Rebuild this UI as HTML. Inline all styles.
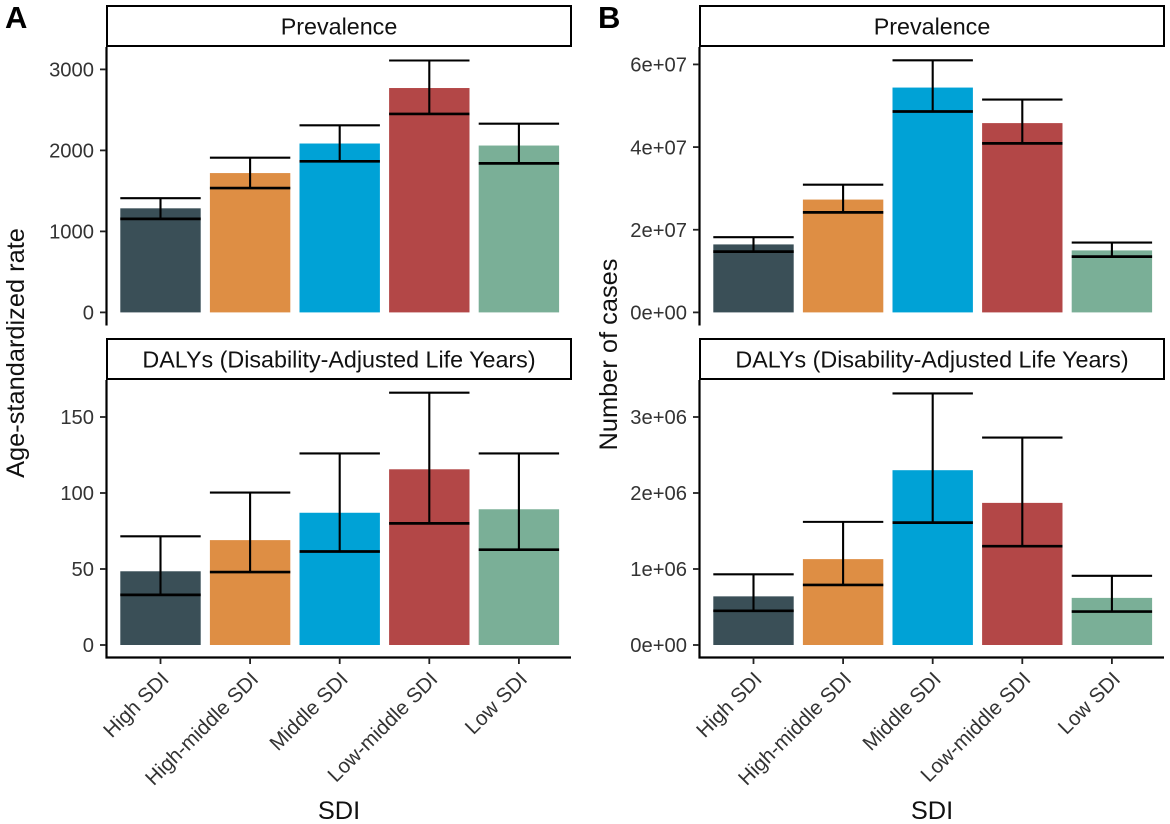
<!DOCTYPE html>
<html>
<head>
<meta charset="utf-8">
<title>SDI charts</title>
<style>
html,body{margin:0;padding:0;background:#fff;}
svg{display:block;}
text{font-family:"Liberation Sans",sans-serif;}
</style>
</head>
<body>
<svg id="chart" width="1170" height="824" viewBox="0 0 1170 824" xmlns="http://www.w3.org/2000/svg"></svg>
<script>
const categories = ["High SDI","High-middle SDI","Middle SDI","Low-middle SDI","Low SDI"];
const barColors = ["#3a4f57","#de8e44","#00a2d6","#b34747","#7aaf97"];

const ratePrevalence = [1285,1720,2085,2770,2060];
const ratePrevalenceUpper = [1410,1910,2310,3110,2330];
const ratePrevalenceLower = [1155,1535,1865,2450,1840];
const ratePrevalenceTicks = [0,1000,2000,3000];
const ratePrevalenceLabels = ["0","1000","2000","3000"];

const rateDalys = [48.5,69,87,115.6,89.3];
const rateDalysUpper = [71.5,100.3,126,166,126];
const rateDalysLower = [33,48,61.5,80,62.7];
const rateDalysTicks = [0,50,100,150];
const rateDalysLabels = ["0","50","100","150"];

const casesPrevalence = [1.645e7,2.73e7,5.44e7,4.58e7,1.50e7];
const casesPrevalenceUpper = [1.82e7,3.09e7,6.10e7,5.15e7,1.69e7];
const casesPrevalenceLower = [1.47e7,2.42e7,4.86e7,4.09e7,1.35e7];
const casesPrevalenceTicks = [0,2e7,4e7,6e7];
const casesPrevalenceLabels = ["0e+00","2e+07","4e+07","6e+07"];

const casesDalys = [6.4e5,11.3e5,23e5,18.7e5,6.2e5];
const casesDalysUpper = [9.3e5,16.2e5,33.1e5,27.3e5,9.1e5];
const casesDalysLower = [4.5e5,7.9e5,16.1e5,13e5,4.4e5];
const casesDalysTicks = [0,1e6,2e6,3e6];
const casesDalysLabels = ["0e+00","1e+06","2e+06","3e+06"];

const NS = "http://www.w3.org/2000/svg";
const root = document.getElementById("chart");

function make(parent, tag, attrs, text) {
  const el = document.createElementNS(NS, tag);
  for (const k in attrs) el.setAttribute(k, attrs[k]);
  if (text !== undefined) el.textContent = text;
  parent.appendChild(el);
  return el;
}

function drawFacet(cfg) {
  const g = make(root, "g", {});
  
  

  const left = cfg.left, right = left + 464;
  const y = v => cfg.zeroY - v * cfg.pxPerUnit;
  const x = i => left + 53.5 + i * 89.6;

  const strip = make(g, "rect", {x:left, y:cfg.stripTop, width:464, height:40, fill:"#fff", stroke:"#000", "stroke-width":2});
  
  
  const stripLabel = make(g, "text", {x:left+232, y:cfg.stripTop+28.5, "text-anchor":"middle", "font-size":23.3, fill:"#111"}, cfg.title);
  
  

  cfg.values.forEach((v, i) => {
    const bar = make(g, "rect", {x:x(i)-40.2, y:y(v), width:80.4, height:y(0)-y(v), fill:barColors[i]});
    
    
  });
  cfg.values.forEach((v, i) => {
    const err = make(g, "path", {
      d:"M"+(x(i)-40.2)+" "+y(cfg.upper[i])+"H"+(x(i)+40.2)+"M"+x(i)+" "+y(cfg.upper[i])+"V"+y(cfg.lower[i]),
      fill:"none", stroke:"#000", "stroke-width":2.1
    });
    
    
    const low = make(g, "path", {
      d:"M"+(x(i)-40.2)+" "+y(cfg.lower[i])+"H"+(x(i)+40.2),
      fill:"none", stroke:"#000", "stroke-width":2.7
    });
    
    
  });

  const yAxis = make(g, "line", {x1:left-0.5, x2:left-0.5, y1:cfg.stripTop+41, y2:cfg.axisBottom+1, stroke:"#000", "stroke-width":2.2});
  
  

  if (cfg.showX) {
    const xAxis = make(g, "line", {x1:left-1.5, x2:right, y1:cfg.axisBottom, y2:cfg.axisBottom, stroke:"#000", "stroke-width":2.2});
    
    
  }

  cfg.ticks.forEach((t, i) => {
    const tick = make(g, "line", {x1:left-7, x2:left-1, y1:y(t), y2:y(t), stroke:"#222", "stroke-width":1.8});
    
    
    const label = make(g, "text", {x:left-13, y:y(t)+7.2, "text-anchor":"end", "font-size":cfg.tickFont, fill:"#333"}, cfg.tickLabels[i]);
    
    
  });

  if (cfg.showX) {
    categories.forEach((c, i) => {
      const tick = make(g, "line", {x1:x(i), x2:x(i), y1:cfg.axisBottom, y2:cfg.axisBottom+6.5, stroke:"#222", "stroke-width":1.8});
      
      
      const label = make(g, "text", {
        x:0, y:0, "text-anchor":"end", "font-size":20.6, fill:"#333",
        transform:"translate("+(x(i)+9.5)+" "+(cfg.axisBottom+23)+") rotate(-45)"
      }, c);
      
      
    });
  }
}

drawFacet({name:"rate-prevalence-facet", title:"Prevalence", left:107, stripTop:6, axisBottom:324.5, zeroY:312.4, pxPerUnit:0.081,
  values:ratePrevalence, upper:ratePrevalenceUpper, lower:ratePrevalenceLower, ticks:ratePrevalenceTicks, tickLabels:ratePrevalenceLabels, tickFont:20.2, showX:false});
drawFacet({name:"rate-dalys-facet", title:"DALYs (Disability-Adjusted Life Years)", left:107, stripTop:339, axisBottom:657.5, zeroY:645, pxPerUnit:1.52,
  values:rateDalys, upper:rateDalysUpper, lower:rateDalysLower, ticks:rateDalysTicks, tickLabels:rateDalysLabels, tickFont:20.2, showX:true});
drawFacet({name:"cases-prevalence-facet", title:"Prevalence", left:700, stripTop:6, axisBottom:324.5, zeroY:312.4, pxPerUnit:41.33e-7,
  values:casesPrevalence, upper:casesPrevalenceUpper, lower:casesPrevalenceLower, ticks:casesPrevalenceTicks, tickLabels:casesPrevalenceLabels, tickFont:20.2, showX:false});
drawFacet({name:"cases-dalys-facet", title:"DALYs (Disability-Adjusted Life Years)", left:700, stripTop:339, axisBottom:657.5, zeroY:645, pxPerUnit:76e-6,
  values:casesDalys, upper:casesDalysUpper, lower:casesDalysLower, ticks:casesDalysTicks, tickLabels:casesDalysLabels, tickFont:20.2, showX:true});

const panelA = make(root, "text", {x:5, y:28, "font-size":31, "font-weight":"bold", fill:"#000"}, "A");


const panelB = make(root, "text", {x:598, y:28, "font-size":31, "font-weight":"bold", fill:"#000"}, "B");



const yTitleA = make(root, "text", {"text-anchor":"middle", "font-size":25.4, fill:"#111", transform:"translate(24 353) rotate(-90)"}, "Age-standardized rate");


const yTitleB = make(root, "text", {"text-anchor":"middle", "font-size":25.4, fill:"#111", transform:"translate(617 354.5) rotate(-90)"}, "Number of cases");


const xTitleA = make(root, "text", {x:339, y:819, "text-anchor":"middle", "font-size":25.4, fill:"#111"}, "SDI");


const xTitleB = make(root, "text", {x:932, y:819, "text-anchor":"middle", "font-size":25.4, fill:"#111"}, "SDI");


</script>
</body>
</html>
